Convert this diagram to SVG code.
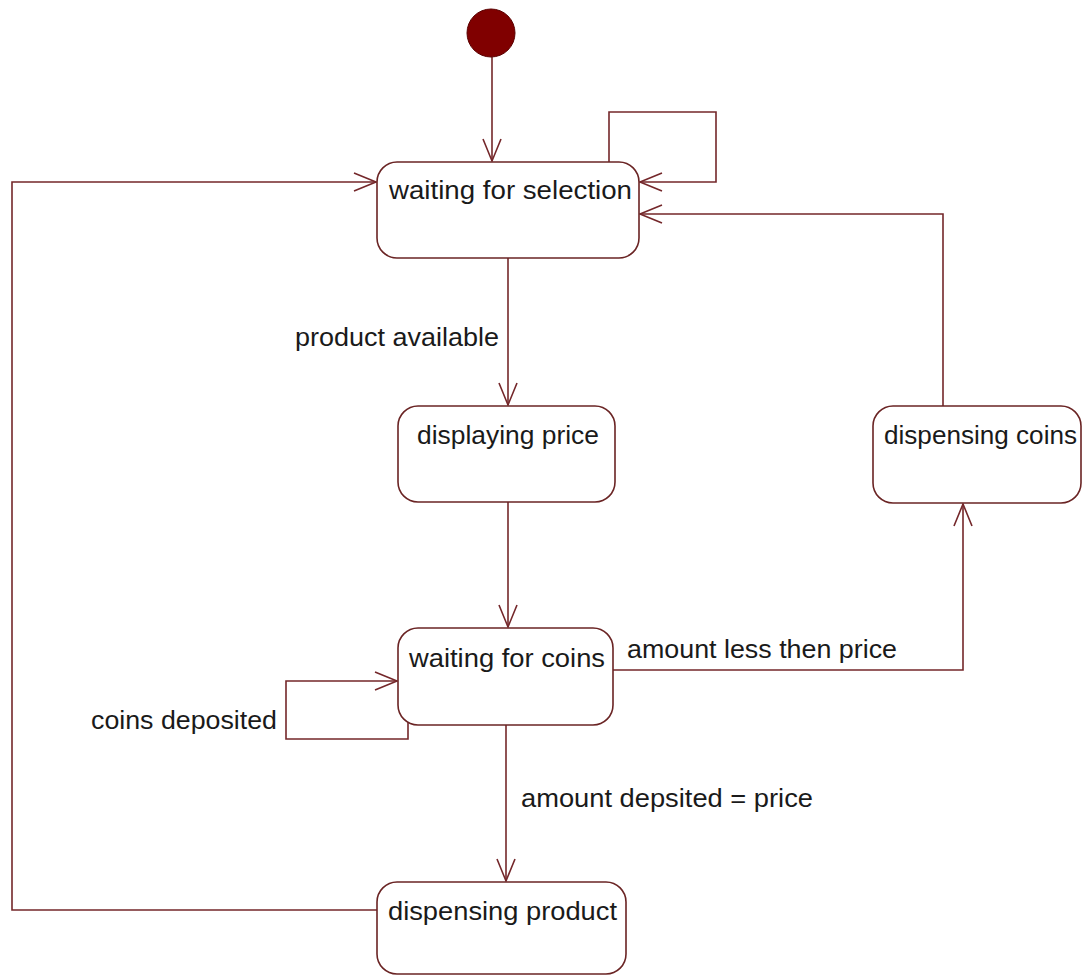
<svg xmlns="http://www.w3.org/2000/svg" width="1083" height="977" viewBox="0 0 1083 977">
  <style>
    .state { fill: #ffffff; stroke: #6a2424; stroke-width: 1.6; }
    .edge { fill: none; stroke: #74272a; stroke-width: 1.6; marker-end: url(#open); }
    .loop { fill: none; stroke: #74272a; stroke-width: 1.6; }
    text { font-family: "Liberation Sans", Arial, sans-serif; font-size: 25px; fill: #1a1a1a; }
  </style>
  <defs>
    <marker id="open" markerUnits="userSpaceOnUse" markerWidth="30" markerHeight="30" viewBox="-26 -13 30 26" refX="0" refY="0" orient="auto">
      <path d="M-22,-9 L0,0 L-22,9" fill="none" stroke="#74272a" stroke-width="1.6"/>
    </marker>
  </defs>
  <rect width="1083" height="977" fill="#ffffff"/>

  <!-- transitions -->
  <g id="connectors">
    <path class="edge" d="M492,57 L492,161"/>
    <path class="edge" d="M609,162 L609,112 L716,112 L716,182 L640,182"/>
    <path class="edge" d="M508,258 L508,405"/>
    <path class="edge" d="M508,502 L508,627"/>
    <path class="edge" d="M408,716 L408,739 L286,739 L286,681 L397,681"/>
    <path class="edge" d="M613,670 L963,670 L963,504"/>
    <path class="edge" d="M943,406 L943,214 L640,214"/>
    <path class="edge" d="M506,725 L506,881"/>
    <path class="edge" d="M377,910 L12,910 L12,182 L376,182"/>
    <text x="295" y="346" textLength="204" lengthAdjust="spacingAndGlyphs">product available</text>
    <text x="91" y="729" textLength="186" lengthAdjust="spacingAndGlyphs">coins deposited</text>
    <text x="627" y="658" textLength="270" lengthAdjust="spacingAndGlyphs">amount less then price</text>
    <text x="521" y="807" textLength="292" lengthAdjust="spacingAndGlyphs">amount depsited = price</text>
  </g>

  <g id="initial">
    <circle cx="491" cy="33" r="24" fill="#800000" stroke="#5a0000" stroke-width="1"/>
  </g>

  <g id="waiting-for-selection">
    <rect class="state" x="377" y="162" width="262" height="96" rx="20" ry="20"/>
    <text x="389" y="199" textLength="243" lengthAdjust="spacingAndGlyphs">waiting for selection</text>
  </g>

  <g id="displaying-price">
    <rect class="state" x="398" y="406" width="217" height="96" rx="20" ry="20"/>
    <text x="417" y="444" textLength="182" lengthAdjust="spacingAndGlyphs">displaying price</text>
  </g>

  <g id="dispensing-coins">
    <rect class="state" x="873" y="406" width="208" height="97" rx="20" ry="20"/>
    <text x="884" y="444" textLength="193" lengthAdjust="spacingAndGlyphs">dispensing coins</text>
  </g>

  <g id="waiting-for-coins">
    <rect class="state" x="398" y="628" width="215" height="97" rx="20" ry="20"/>
    <text x="409" y="667" textLength="196" lengthAdjust="spacingAndGlyphs">waiting for coins</text>
  </g>

  <g id="dispensing-product">
    <rect class="state" x="377" y="882" width="249" height="92" rx="20" ry="20"/>
    <text x="388" y="920" textLength="229" lengthAdjust="spacingAndGlyphs">dispensing product</text>
  </g>
</svg>
